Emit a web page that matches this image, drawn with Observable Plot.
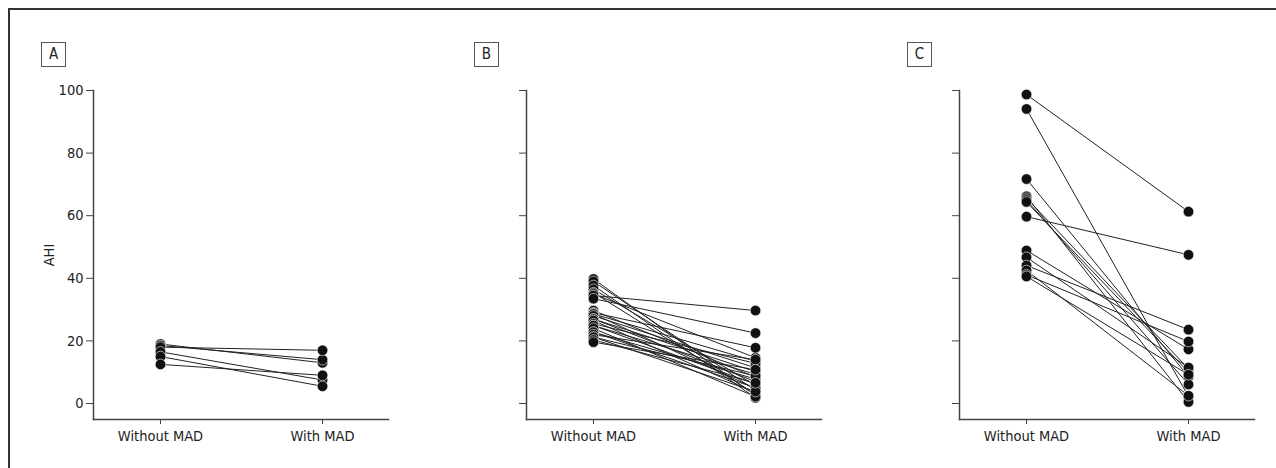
<!DOCTYPE html>
<html>
<head>
<meta charset="utf-8">
<script src="https://cdn.jsdelivr.net/npm/d3@7"></script>
<script src="https://cdn.jsdelivr.net/npm/@observablehq/plot@0.6"></script>
<style>
  html, body { margin: 0; padding: 0; background: #fff; }
  #wrap { position: relative; width: 1276px; height: 468px; overflow: hidden; font-family: "DejaVu Sans Condensed", "Liberation Sans", sans-serif; color: #222; }
  #border { position: absolute; left: 8px; top: 8px; width: 1400px; height: 600px; border-top: 2px solid #333; border-left: 2px solid #333; }
  .panel { position: absolute; top: 0; }
  .tag { position: absolute; top: 42px; width: 23px; height: 23px; border: 1px solid #555; font-size: 15px; line-height: 23px; text-align: center; box-sizing: content-box; }
</style>
</head>
<body>
<div id="wrap"><div id="border"></div></div>
<script>
// Conditions (x categories) and y ticks
const conditions = ["Without MAD", "With MAD"];
const yTicks = [0, 20, 40, 60, 80, 100];
const panelLabels = ["A", "B", "C"];

// Panel A: AHI per subject
const aWithout = [19, 18.5, 18, 16.5, 15, 12.5];
const aWith    = [13, 14, 17, 7.5, 5.5, 9];

// Panel B
const bWithout = [39.8, 39, 37.7, 36.5, 35.4, 35, 34.5, 33.5, 29.7, 29, 28.6, 28.6, 28, 27, 27, 26.5, 25.5, 24.9, 24.9, 24, 22.8, 22.8, 22, 21.2, 21.2, 20.3, 19.6];
const bWith    = [2.5, 4.2, 1.8, 5.8, 3, 14.6, 29.7, 22.5, 8.4, 17.8, 13.5, 4.8, 11.4, 7, 10.2, 3.5, 12.8, 6.2, 9.3, 2.2, 5, 7.8, 14, 3.8, 8.8, 6.6, 10.8];

// Panel C
const cWithout = [98.7, 94.1, 71.7, 66.2, 65.6, 65, 64.4, 59.7, 48.9, 46.7, 44.1, 42.5, 41.1, 40.6];
const cWith    = [61.3, 2.2, 8.6, 0.5, 11.1, 6.1, 10, 47.5, 17.3, 11.5, 23.6, 2.5, 19.8, 9.2];

const panels = [
  {label: panelLabels[0], without: aWithout, withv: aWith, showLabels: true},
  {label: panelLabels[1], without: bWithout, withv: bWith, showLabels: false},
  {label: panelLabels[2], without: cWithout, withv: cWith, showLabels: false}
];

const wrap = document.getElementById("wrap");
const axisColor = "#444";

panels.forEach((p, i) => {
  const rows = [];
  p.without.forEach((v, j) => {
    rows.push({id: j, cond: conditions[0], value: v});
    rows.push({id: j, cond: conditions[1], value: p.withv[j]});
  });
  const chart = Plot.plot({
    width: 398,
    height: 468,
    marginLeft: 93,
    marginRight: 10,
    marginTop: 90,
    marginBottom: 49,
    insetBottom: 16,
    style: {fontFamily: '"DejaVu Sans Condensed", "Liberation Sans", sans-serif', fontSize: "14.5px", color: "#222", background: "transparent", overflow: "visible"},
    x: {domain: conditions, padding: 0.407},
    y: {domain: [0, 100]},
    marks: [
      Plot.frame({anchor: "left", stroke: axisColor, strokeWidth: 1.5}),
      Plot.frame({anchor: "bottom", stroke: axisColor, strokeWidth: 1.5}),
      Plot.axisX({tickSize: 5, tickPadding: 6, label: null, stroke: axisColor}),
      Plot.axisY({ticks: yTicks, tickSize: 7, tickPadding: 3, stroke: axisColor,
        tickFormat: p.showLabels ? (d => d) : (() => ""),
        label: p.showLabels ? "AHI" : null, labelAnchor: "center", labelArrow: false, labelOffset: 50}),
      Plot.line(rows, {x: "cond", y: "value", z: "id", stroke: "#222", strokeWidth: 1}),
      Plot.dot(rows, {x: "cond", y: "value", r: 5.3, fill: "#111", stroke: "#fff", strokeWidth: 0.6})
    ]
  });
  chart.classList.add("panel");
  chart.style.left = (i * 433) + "px";
  wrap.appendChild(chart);
  const tag = document.createElement("div");
  tag.className = "tag";
  tag.textContent = p.label;
  tag.style.left = (41 + i * 433) + "px";
  wrap.appendChild(tag);
});
</script>
</body>
</html>
